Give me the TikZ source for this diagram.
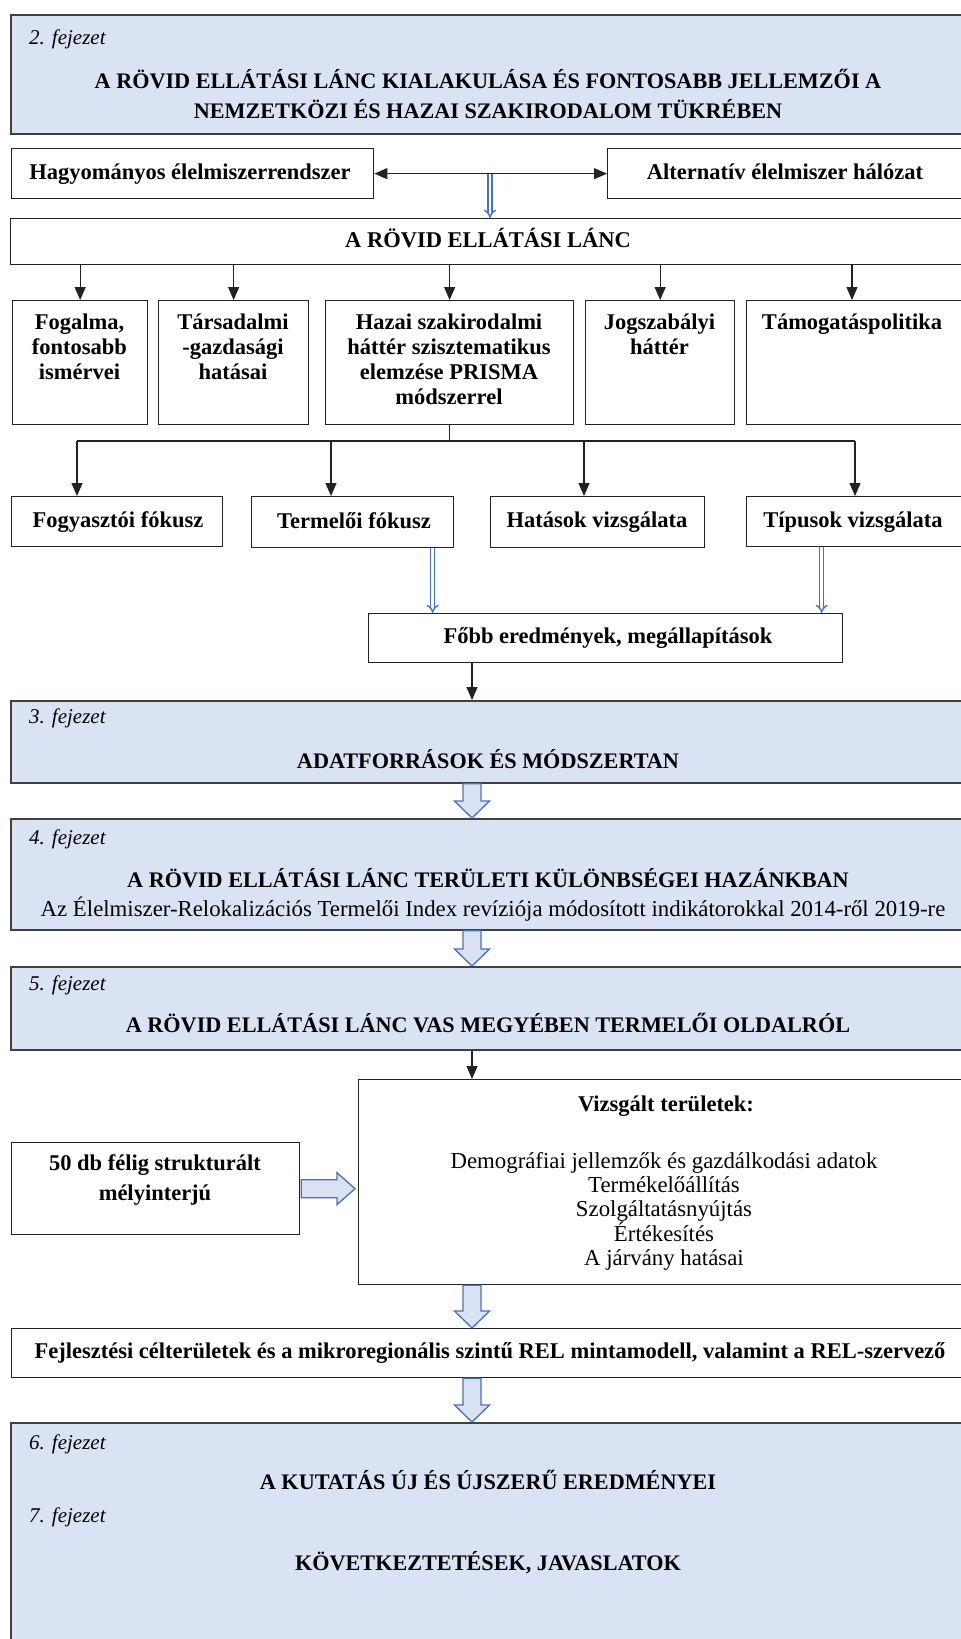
\documentclass[tikz,border=0pt]{standalone}
\usepackage{fontspec}
\setmainfont{Liberation Serif}
\usetikzlibrary{arrows.meta,calc}
\definecolor{chfill}{HTML}{DAE3F3}
\definecolor{chdraw}{HTML}{404040}
\definecolor{bl}{HTML}{4472C4}
\definecolor{bx}{HTML}{222222}
\newcommand\hollowdown[2]{%
  \draw[hollow] let \p1=(#1.south -| axis), \p2=(#2.north -| axis) in
    (\x1-9pt,\y1) -- (\x1+9pt,\y1) -- (\x1+9pt,\y2+17pt) -- (\x1+17.5pt,\y2+17pt)
    -- (\x1,\y2) -- (\x1-17.5pt,\y2+17pt) -- (\x1-9pt,\y2+17pt) -- cycle;}
\begin{document}
\begin{tikzpicture}[x=1pt,y=-1pt,
  chap/.style={draw=chdraw, line width=1.8pt, fill=chfill, anchor=north west, inner sep=0pt, minimum width=956pt},
  box/.style={draw=bx, line width=1.3pt, fill=white, anchor=north west, inner sep=0pt},
  bt/.style={font=\fontsize{22.5}{25}\selectfont\bfseries, align=center, inner sep=0pt},
  tt/.style={font=\fontsize{22.2}{30}\selectfont\bfseries, align=center, inner sep=0pt},
  rt/.style={font=\fontsize{22.8}{24}\selectfont, align=center, inner sep=0pt},
  lab/.style={font=\fontsize{21}{25}\selectfont\itshape, anchor=west, inner sep=0pt},
  conn/.style={draw=bx, line width=1.2pt, -{Triangle[width=11pt,length=13pt]}},
  plain/.style={draw=bx, line width=1.2pt},
  dbl/.style={draw=bl, line width=1.4pt, double=white, double distance=2.6pt, -{Implies}},
  hollow/.style={draw=bl, fill=chfill, line width=1.3pt, line join=miter}
]
\useasboundingbox (0,0) rectangle (961,1639);
\fill[white] (0,0) rectangle (961,1639);
\clip (0,0) rectangle (961,1639);
\coordinate (axis) at (472,0);

% chapter 2
\node[chap, minimum height=119pt] (ch2) at (10,14) {};
\node[lab] (ch2l) at (29,39) {2. fejezet};
\node[tt, anchor=north] (ch2t) at (488,69) {A RÖVID ELLÁTÁSI LÁNC KIALAKULÁSA ÉS FONTOSABB JELLEMZŐI A\\NEMZETKÖZI ÉS HAZAI SZAKIRODALOM TÜKRÉBEN};

% top boxes
\node[box, minimum width=362pt, minimum height=50pt] (hagy) at (11,148) {};
\node[bt, anchor=base] (hagyt) at (190,179) {Hagyományos élelmiszerrendszer};
\node[box, minimum width=359pt, minimum height=50pt] (alt) at (607,148) {};
\node[bt, anchor=base] (altt) at (785,179) {Alternatív élelmiszer hálózat};
\draw[draw=bx, line width=1.2pt, {Triangle[width=11pt,length=13pt]}-{Triangle[width=11pt,length=13pt]}] (hagy.east) -- (alt.west);

\node[box, minimum width=956pt, minimum height=46pt] (lanc) at (10,218) {};
\node[bt, anchor=base] (lanct) at (488,247.5) {A RÖVID ELLÁTÁSI LÁNC};
\coordinate (bstart) at (490,174);
\draw[dbl] (bstart) -- (bstart |- lanc.north);

% row 1
\node[box, minimum width=135pt, minimum height=124pt] (fog) at (12,300) {};
\node[bt, anchor=north] (fogt) at (79.5,314) {Fogalma,\\fontosabb\\ismérvei};
\node[box, minimum width=150pt, minimum height=124pt] (tars) at (158,300) {};
\node[bt, anchor=north] (tarst) at (233,314) {Társadalmi\\-gazdasági\\hatásai};
\node[box, minimum width=248pt, minimum height=124pt] (hazai) at (325,300) {};
\node[bt, anchor=north] (hazait) at (449,314) {Hazai szakirodalmi\\háttér szisztematikus\\elemzése PRISMA\\módszerrel};
\node[box, minimum width=149pt, minimum height=124pt] (jog) at (585,300) {};
\node[bt, anchor=north] (jogt) at (659.5,314) {Jogszabályi\\háttér};
\node[box, minimum width=220pt, minimum height=124pt] (tam) at (746,300) {};
\node[bt, anchor=north] (tamt) at (852,314) {Támogatáspolitika};

\draw[conn] (lanc.south -| fog.north) -- (fog.north);
\draw[conn] (lanc.south -| tars.north) -- (tars.north);
\draw[conn] (lanc.south -| hazai.north) -- (hazai.north);
\draw[conn] (lanc.south -| jog.north) -- (jog.north);
\draw[conn] (lanc.south -| tamt.north) -- (tam.north -| tamt.north);

% branching
\coordinate (h1) at (77,441);
\coordinate (h2) at (331,441);
\coordinate (h3) at (584,441);
\coordinate (h4) at (855,441);
\draw[plain] (hazai.south) -- (hazai.south |- h1);
\draw[plain] (h1) -- (h4);

% row 2
\node[box, minimum width=211pt, minimum height=50pt] (fogy) at (11,496) {};
\node[bt, anchor=base] (fogyt) at (118,527) {Fogyasztói fókusz};
\node[box, minimum width=202pt, minimum height=51pt] (term) at (251,496) {};
\node[bt, anchor=base] (termt) at (354,528) {Termelői fókusz};
\node[box, minimum width=214pt, minimum height=51pt] (hat) at (490,496) {};
\node[bt, anchor=base] (hatt) at (597,527) {Hatások vizsgálata};
\node[box, minimum width=220pt, minimum height=50pt] (tip) at (746,496) {};
\node[bt, anchor=base] (tipt) at (853,527) {Típusok vizsgálata};

\draw[conn] (h1) -- (h1 |- fogy.north);
\draw[conn] (h2) -- (h2 |- term.north);
\draw[conn] (h3) -- (h3 |- hat.north);
\draw[conn] (h4) -- (h4 |- tip.north);

% results
\node[box, minimum width=474pt, minimum height=49pt] (fobb) at (368,613) {};
\node[bt, anchor=base] (fobbt) at (608,643) {Főbb eredmények, megállapítások};
\coordinate (d1) at ($(term.south)+(80,0)$);
\coordinate (d2) at ($(tip.south)+(-35,0)$);
\draw[dbl] (d1) -- (d1 |- fobb.north);
\draw[dbl] (d2) -- (d2 |- fobb.north);

% chapter 3
\node[chap, minimum height=82pt] (ch3) at (10,700) {};
\node[lab] (ch3l) at (29,718) {3. fejezet};
\node[tt, anchor=base] (ch3t) at (488,768.5) {ADATFORRÁSOK ÉS MÓDSZERTAN};
\draw[conn] (fobb.south -| axis) -- (ch3.north -| axis);

% chapter 4
\node[chap, minimum height=111pt] (ch4) at (10,818) {};
\node[lab] (ch4l) at (29,839) {4. fejezet};
\node[tt, anchor=base] (ch4t) at (488,887.5) {A RÖVID ELLÁTÁSI LÁNC TERÜLETI KÜLÖNBSÉGEI HAZÁNKBAN};
\node[rt, anchor=base] (ch4s) at (493,916.5) {Az Élelmiszer-Relokalizációs Termelői Index revíziója módosított indikátorokkal 2014-ről 2019-re};
\hollowdown{ch3}{ch4}

% chapter 5
\node[chap, minimum height=83pt] (ch5) at (10,966) {};
\node[lab] (ch5l) at (29,985) {5. fejezet};
\node[tt, anchor=base] (ch5t) at (488,1032.5) {A RÖVID ELLÁTÁSI LÁNC VAS MEGYÉBEN TERMELŐI OLDALRÓL};
\hollowdown{ch4}{ch5}

% interviews
\node[box, minimum width=608pt, minimum height=205pt] (vizs) at (358,1079) {};
\node[bt, anchor=base] (vizsh) at (666,1111) {Vizsgált területek:};
\node[rt, anchor=north] (vizsl) at (664,1152) {Demográfiai jellemzők és gazdálkodási adatok\\Termékelőállítás\\Szolgáltatásnyújtás\\Értékesítés\\A járvány hatásai};
\draw[conn] (ch5.south -| axis) -- (vizs.north -| axis);

\node[box, minimum width=288pt, minimum height=92pt] (otven) at (11,1142) {};
\node[bt, anchor=north, font=\fontsize{22.5}{30}\selectfont\bfseries] (otvent) at (155,1154) {50 db félig strukturált\\mélyinterjú};
\draw[hollow] let \p1=(otven.east), \p2=(vizs.west) in
  (\x1+1pt,\y1+9pt) -- (\x2-21pt,\y1+9pt) -- (\x2-21pt,\y1+16pt) -- (\x2-3pt,\y1)
  -- (\x2-21pt,\y1-16pt) -- (\x2-21pt,\y1-9pt) -- (\x1+1pt,\y1-9pt) -- cycle;

% development
\node[box, minimum width=955pt, minimum height=49pt] (fejl) at (11,1328) {};
\node[bt, anchor=base] (fejlt) at (490,1358.5) {Fejlesztési célterületek és a mikroregionális szintű REL mintamodell, valamint a REL-szervező};
\hollowdown{vizs}{fejl}

% chapters 6-7
\node[chap, minimum height=240pt] (ch6) at (10,1422) {};
\node[lab] (ch6l) at (29,1444) {6. fejezet};
\node[tt, anchor=base] (ch6t) at (488,1489.5) {A KUTATÁS ÚJ ÉS ÚJSZERŰ EREDMÉNYEI};
\node[lab] (ch7l) at (29,1517) {7. fejezet};
\node[tt, anchor=base] (ch7t) at (488,1570.5) {KÖVETKEZTETÉSEK, JAVASLATOK};
\hollowdown{fejl}{ch6}
\end{tikzpicture}
\end{document}
